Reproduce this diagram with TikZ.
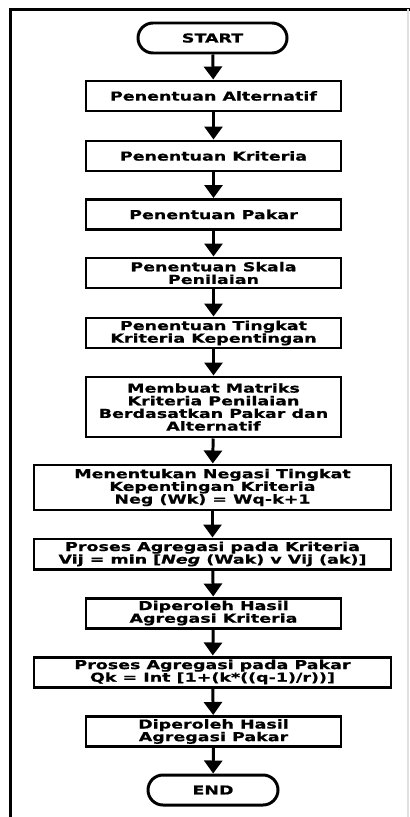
\documentclass[tikz,border=0pt]{standalone}
\usepackage{fontspec}
\setmainfont{DejaVu Sans}[FakeStretch=1.42, FakeBold=0.6]
\usetikzlibrary{arrows.meta}

\begin{document}
\begin{tikzpicture}[
  font=\fontsize{7}{7.2}\selectfont\bfseries,
  >={Triangle[length=0.26cm, width=0.36cm]},
  proc/.style={rectangle, draw=black, line width=1.7pt, fill=white,
               minimum width=5.1cm, minimum height=0.6cm, align=center, inner sep=1pt},
  wide/.style={proc, minimum width=7.14cm},
  term/.style={rectangle, rounded corners=0.3cm, draw=black, line width=1.7pt, fill=white,
               minimum width=2.98cm, minimum height=0.6cm, inner sep=1pt},
  tr/.style={->, line width=1.7pt},
  frame/.style={line width=2pt, draw=black},
]

\useasboundingbox (0,0) rectangle (8.2,-16.34);
\draw[frame] (0.21,-16.34) -- (0.21,-0.19) -- (8.2,-0.19);
\draw[black!12, line width=0.6pt] (8.16,-0.19) -- (8.16,-16.34);

\node[term] (start)    at (4.25,-0.76)  {START};
\node[proc] (alt)      at (4.27,-1.92)  {Penentuan Alternatif};
\node[proc] (krit)     at (4.27,-3.12)  {Penentuan Kriteria};
\node[proc] (pakar)    at (4.27,-4.29)  {Penentuan Pakar};
\node[proc] (skala)    at (4.27,-5.46)  {Penentuan Skala\\Penilaian};
\node[proc] (tingkat)  at (4.27,-6.66)  {Penentuan Tingkat\\Kriteria Kepentingan};
\node[proc, minimum height=1.2cm] (matriks) at (4.27,-8.14)
  {Membuat Matriks\\Kriteria Penilaian\\Berdasatkan Pakar dan\\Alternatif};
\node[wide, minimum height=0.9cm] (negasi) at (4.25,-9.75)
  {Menentukan Negasi Tingkat\\Kepentingan Kriteria\\Neg (Wk) = Wq-k+1};
\node[wide] (agrkrit)  at (4.25,-11.08)
  {Proses Agregasi pada Kriteria\\Vij = min [\textit{Neg} (Wak) v Vij (ak)]};
\node[proc] (hslkrit)  at (4.27,-12.26) {Diperoleh Hasil\\Agregasi Kriteria};
\node[wide] (agrpakar) at (4.25,-13.44)
  {Proses Agregasi pada Pakar\\Qk = Int [1+(k*((q-1)/r))]};
\node[proc] (hslpakar) at (4.27,-14.63) {Diperoleh Hasil\\Agregasi Pakar};
\node[term, minimum width=2.6cm] (stop) at (4.26,-15.8) {END};

\draw[tr] (start) -- (alt);
\draw[tr] (alt) -- (krit);
\draw[tr] (krit) -- (pakar);
\draw[tr] (pakar) -- (skala);
\draw[tr] (skala) -- (tingkat);
\draw[tr] (tingkat) -- (matriks);
\draw[tr] (matriks) -- (negasi);
\draw[tr] (negasi) -- (agrkrit);
\draw[tr] (agrkrit) -- (hslkrit);
\draw[tr] (hslkrit) -- (agrpakar);
\draw[tr] (agrpakar) -- (hslpakar);
\draw[tr] (hslpakar) -- (stop);

\end{tikzpicture}
\end{document}
